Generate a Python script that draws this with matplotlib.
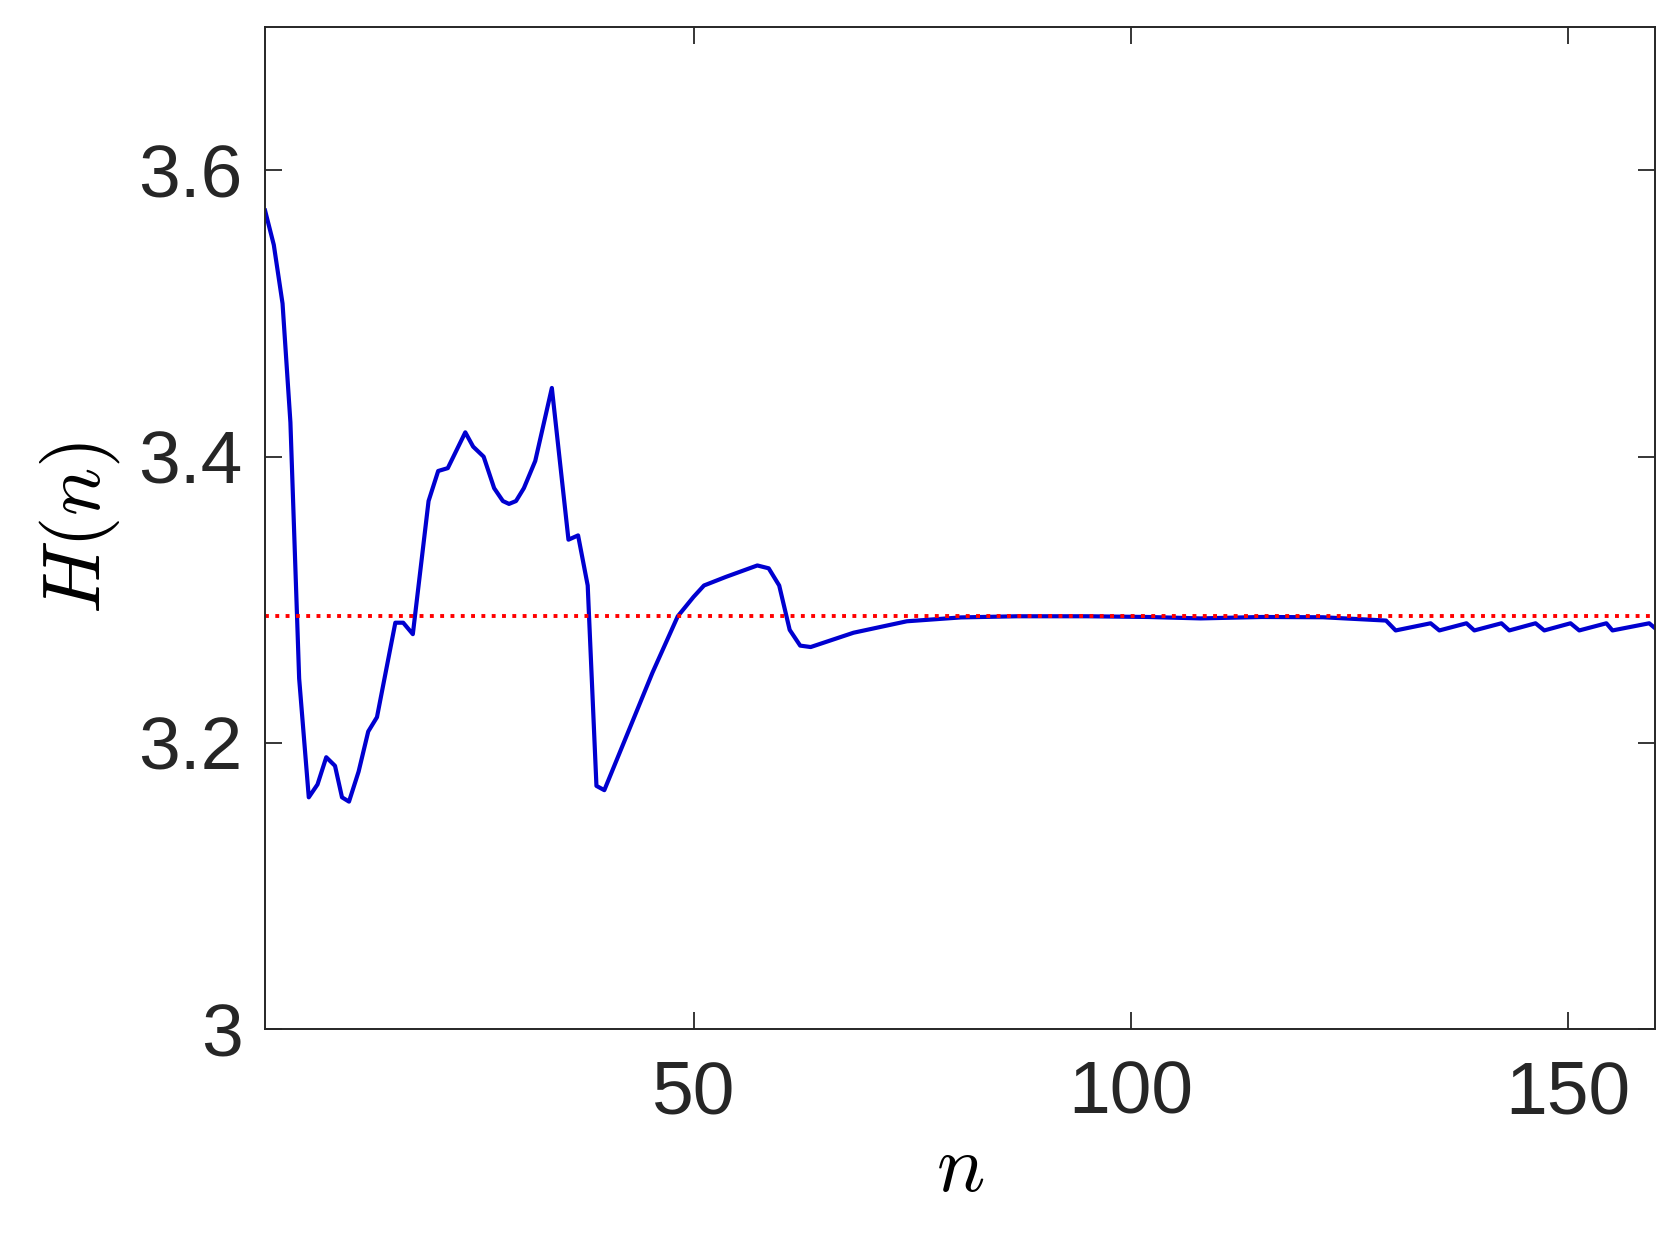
import matplotlib
matplotlib.use("Agg")
import matplotlib.pyplot as plt

# values
n_vals = [1, 2, 3, 3.9, 4.9, 6, 7, 8, 9, 9.8, 10.6, 11.7, 12.8, 13.8, 15.9, 16.8, 17.9,
          19.7, 20.8, 21.9, 23.9, 24.8, 26, 27.2, 28.2, 28.9, 29.7, 30.6, 31.9, 33.8, 35.7, 36.8,
          37.9, 38.9, 39.8, 45.3, 48.2, 50, 51.2, 53.7, 57.3, 58.6, 59.8, 61, 62.2, 63.4,
          68.3, 74.4, 80.6, 87, 95, 102, 108, 115, 122, 129.2,
          130.3, 134.3, 135.3, 138.4, 139.3, 142.4, 143.3, 146.3, 147.3, 150.3, 151.3,
          154.4, 155.1, 159.3, 160]
H_vals = [3.572, 3.548, 3.507, 3.424, 3.245, 3.162, 3.171, 3.190, 3.184, 3.162, 3.159,
          3.180, 3.208, 3.218, 3.284, 3.284, 3.276, 3.369, 3.390, 3.392, 3.417, 3.407,
          3.400, 3.378, 3.369, 3.367, 3.369, 3.378, 3.397, 3.448, 3.342, 3.345, 3.310, 3.170, 3.167,
          3.249, 3.2885, 3.302, 3.310, 3.316, 3.324, 3.322, 3.310, 3.279, 3.268, 3.267,
          3.277, 3.285, 3.2877, 3.2885, 3.2885, 3.2880, 3.2870, 3.2880, 3.2878, 3.2855,
          3.2786, 3.2836, 3.2786, 3.2836, 3.2786, 3.2836, 3.2786, 3.2836, 3.2786, 3.2836,
          3.2786, 3.2836, 3.2786, 3.2836, 3.2800]
H_limit = 3.2885

plt.rcParams['font.family'] = ['Liberation Sans', 'DejaVu Sans']
plt.rcParams['mathtext.fontset'] = 'cm'

fig = plt.figure(figsize=(16.67, 12.4), dpi=100)
ax = fig.add_axes([0.159, 0.170, 0.834, 0.808])
ax.plot(n_vals, H_vals, color='#0000d0', lw=3)
ax.axhline(H_limit, color='red', ls=':', lw=2.8)
ax.set_xlim(1, 160)
ax.set_ylim(3, 3.7)
ax.set_xticks([50, 100, 150])
ax.set_yticks([3, 3.2, 3.4, 3.6])
ax.set_yticklabels(['3', '3.2', '3.4', '3.6'])
ax.tick_params(direction='in', top=True, right=True, length=12, width=1.3,
               labelsize=54, colors='#262626')
ax.tick_params(axis='x', pad=22)
ax.tick_params(axis='y', pad=16)
for s in ax.spines.values():
    s.set_linewidth(1.4)
    s.set_color('#262626')
ax.set_xlabel('$n$', fontsize=58, labelpad=2)
ax.set_ylabel('$H(n)$', fontsize=58, labelpad=12)
fig.savefig('out.png')
